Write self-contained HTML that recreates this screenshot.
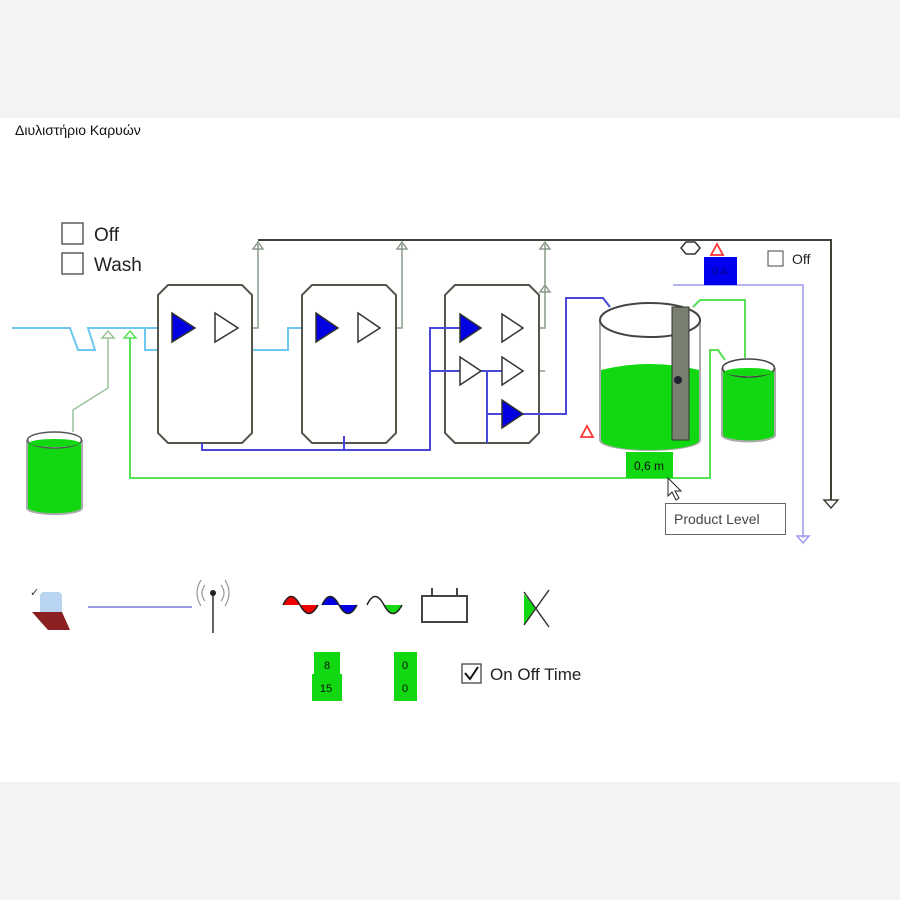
<!DOCTYPE html>
<html><head><style>
body{margin:0;background:#f3f3f3;}
svg{display:block;}
text{font-family:"Liberation Sans",sans-serif;}
</style></head><body>
<svg width="900" height="900" xmlns="http://www.w3.org/2000/svg">
<rect x="0" y="0" width="900" height="900" fill="#f3f3f3"/>
<rect x="0" y="118" width="900" height="664" fill="#fff"/>
<text x="15" y="135" font-size="14" fill="#111">Διυλιστήριο Καρυών</text>
<!-- checkboxes -->
<rect x="62" y="223" width="21" height="21" fill="#fff" stroke="#444" stroke-width="1.3"/>
<text x="94" y="241" font-size="19" fill="#222">Off</text>
<rect x="62" y="253" width="21" height="21" fill="#fff" stroke="#444" stroke-width="1.3"/>
<text x="94" y="271" font-size="19" fill="#222">Wash</text>
<!-- cyan -->
<polyline points="12,328 70,328 78,350 95,350 88,328 145,328 172,328" fill="none" stroke="#6cc8f0" stroke-width="2"/>
<polyline points="145,328 145,350 288,350 288,328 316,328" fill="none" stroke="#6cc8f0" stroke-width="2"/>
<!-- dark top line -->
<polyline points="258,240 831,240 831,500" fill="none" stroke="#404035" stroke-width="2"/>
<polygon points="824,500 838,500 831,508" fill="none" stroke="#404035" stroke-width="1.5"/>
<!-- outputs gray-green -->
<g fill="none" stroke="#8a9a8a" stroke-width="1.5">
<polyline points="238,328 258,328 258,244"/>
<polyline points="380,328 402,328 402,244"/>
<polyline points="523,328 545,328 545,244"/>
<polyline points="523,371 545,371"/>
<polygon points="253,249 263,249 258,242"/>
<polygon points="397,249 407,249 402,242"/>
<polygon points="540,249 550,249 545,242"/>
<polygon points="540,292 550,292 545,285"/>
</g>
<!-- tanks -->
<g fill="#fff" stroke="#55554a" stroke-width="2">
<polygon points="168,285 242,285 252,295 252,433 242,443 168,443 158,433 158,295"/>
<polygon points="312,285 386,285 396,295 396,433 386,443 312,443 302,433 302,295"/>
<polygon points="455,285 529,285 539,295 539,433 529,443 455,443 445,433 445,295"/>
</g>
<!-- blue lines -->
<g fill="none" stroke="#4848d8" stroke-width="2">
<polyline points="202,443 202,450 430,450 430,328 460,328"/>
<line x1="344" y1="436" x2="344" y2="450"/>
<line x1="430" y1="371" x2="460" y2="371"/>
<line x1="481" y1="371" x2="508" y2="371"/>
<polyline points="487,371 487,443"/>
<line x1="487" y1="414" x2="502" y2="414"/>
<polyline points="523,414 566,414 566,298 603,298 610,307"/>
</g>
<!-- triangles -->
<g stroke="#333" stroke-width="1.5">
<polygon points="172,313 195,328 172,342" fill="#0000e0"/>
<polygon points="215,313 238,328 215,342" fill="#fff"/>
<polygon points="316,313 338,328 316,342" fill="#0000e0"/>
<polygon points="358,313 380,328 358,342" fill="#fff"/>
<polygon points="460,314 481,328 460,342" fill="#0000e0"/>
<polygon points="502,314 523,328 502,342" fill="#fff"/>
<polygon points="460,357 481,371 460,385" fill="#fff"/>
<polygon points="502,357 523,371 502,385" fill="#fff"/>
<polygon points="502,400 523,414 502,428" fill="#0000e0"/>
</g>
<!-- green lines -->
<g fill="none" stroke="#55e055" stroke-width="2">
<polyline points="130,338 130,478 710,478 710,350 718,350 725,360"/>
<polyline points="693,307 700,300 745,300 745,358"/>
</g>
<polygon points="124,338 136,338 130,331" fill="none" stroke="#55e055" stroke-width="1.5"/>
<polyline points="73,432 73,410 108,388 108,338" fill="none" stroke="#9ac09a" stroke-width="1.5"/>
<polygon points="102,338 114,338 108,331" fill="none" stroke="#9ac09a" stroke-width="1.5"/>
<!-- light blue -->
<polyline points="673,285 803,285 803,538" fill="none" stroke="#9a9af0" stroke-width="1.5"/>
<polygon points="797,536 809,536 803,543" fill="none" stroke="#9a9af0" stroke-width="1.5"/>
<!-- left small tank -->
<path d="M27,440 L27,508 A27,6 0 0 0 82,508 L82,440" fill="#11d811" stroke="#aaa" stroke-width="2"/>
<ellipse cx="54.5" cy="440" rx="27" ry="8" fill="#fff" stroke="#555" stroke-width="1.5"/>
<ellipse cx="54.5" cy="443" rx="25" ry="4" fill="#11d811"/>
<!-- big tank -->
<path d="M600,320 L600,440 A50,10 0 0 0 700,440 L700,320" fill="#fff" stroke="#aaa" stroke-width="2"/>
<path d="M601,370 Q650,358 699,370 L699,440 A49,10 0 0 1 601,440 Z" fill="#11d811"/>
<ellipse cx="650" cy="320" rx="50" ry="17" fill="none" stroke="#444" stroke-width="2"/>
<rect x="672" y="307" width="17" height="133" fill="#7a8070" stroke="#333"/>
<circle cx="678" cy="380" r="4" fill="#223"/>
<rect x="626" y="452" width="47" height="26" fill="#11d811"/>
<text x="649" y="470" font-size="12" fill="#111" text-anchor="middle">0,6 m</text>
<!-- small right tank -->
<path d="M722,368 L722,435 A25,6 0 0 0 775,435 L775,368" fill="#11d811" stroke="#aaa" stroke-width="2"/>
<ellipse cx="748.5" cy="368" rx="26" ry="9" fill="#fff" stroke="#444" stroke-width="1.5"/>
<ellipse cx="748.5" cy="372" rx="24" ry="4" fill="#11d811"/>
<!-- red triangles -->
<polygon points="581,437 587,426 593,437" fill="none" stroke="#f33" stroke-width="1.8"/>
<polygon points="711,255 717,244 723,255" fill="none" stroke="#f33" stroke-width="1.8"/>
<!-- blue box -->
<rect x="704" y="257" width="33" height="28" fill="#0000ee"/>
<text x="720" y="275" font-size="11" fill="#000080" text-anchor="middle">0 A</text>
<polygon points="681,248 686,242 695,242 700,248 695,254 686,254" fill="#fff" stroke="#333" stroke-width="1.5"/>
<rect x="768" y="251" width="15" height="15" fill="#fff" stroke="#444"/>
<text x="792" y="264" font-size="14" fill="#222">Off</text>
<!-- tooltip -->
<rect x="665.5" y="503.5" width="120" height="31" fill="#fff" stroke="#666"/>
<text x="674" y="524" font-size="14" fill="#444">Product Level</text>
<path d="M668,478 L668,496 L672,492 L676,500 L679,498 L675,491 L681,491 Z" fill="#fff" stroke="#222"/>
<!-- bottom -->
<rect x="40" y="592" width="22" height="32" rx="4" fill="#b8d4f0"/>
<path d="M32,612 L48,630 L70,630 L62,612 Z" fill="#8a2020"/>
<text x="30" y="596" font-size="11" fill="#333">✓</text>
<line x1="88" y1="607" x2="192" y2="607" stroke="#9a9ae0" stroke-width="2"/>
<line x1="213" y1="595" x2="213" y2="633" stroke="#333" stroke-width="1.5"/>
<circle cx="213" cy="593" r="3" fill="#222"/>
<path d="M205,585 Q199,593 205,601 M201,580 Q193,593 201,606 M221,585 Q227,593 221,601 M225,580 Q233,593 225,606" fill="none" stroke="#999" stroke-width="1.2"/>
<path d="M283,605 Q291,588 300,605 Z" fill="#e00"/><path d="M300,605 Q309,622 318,605 Z" fill="#e00"/>
<path d="M283,605 Q291,588 300,605 Q309,622 318,605" fill="none" stroke="#222" stroke-width="1.5"/>
<path d="M322,605 Q330,588 339,605 Z" fill="#0000e0"/><path d="M339,605 Q348,622 357,605 Z" fill="#0000e0"/>
<path d="M322,605 Q330,588 339,605 Q348,622 357,605" fill="none" stroke="#222" stroke-width="1.5"/>
<path d="M384,605 Q393,622 402,605 Z" fill="#11d811"/>
<path d="M367,605 Q375,588 384,605 Q393,622 402,605" fill="none" stroke="#222" stroke-width="1.5"/>
<rect x="422" y="596" width="45" height="26" fill="#fff" stroke="#444" stroke-width="2"/>
<line x1="432" y1="588" x2="432" y2="596" stroke="#444" stroke-width="2"/>
<line x1="457" y1="588" x2="457" y2="596" stroke="#444" stroke-width="2"/>
<polygon points="524,594 536,609 524,624" fill="#11d811"/>
<line x1="524" y1="592" x2="549" y2="627" stroke="#333" stroke-width="1.5"/>
<line x1="549" y1="590" x2="524" y2="625" stroke="#333" stroke-width="1.5"/>
<rect x="314" y="652" width="26" height="24" fill="#11d811"/>
<rect x="312" y="674" width="30" height="27" fill="#11d811"/>
<text x="327" y="669" font-size="11" fill="#111" text-anchor="middle">8</text>
<text x="326" y="692" font-size="11" fill="#111" text-anchor="middle">15</text>
<rect x="394" y="652" width="23" height="49" fill="#11d811"/>
<text x="405" y="669" font-size="11" fill="#111" text-anchor="middle">0</text>
<text x="405" y="692" font-size="11" fill="#111" text-anchor="middle">0</text>
<rect x="462" y="664" width="19" height="19" fill="#fff" stroke="#444" stroke-width="1.3"/>
<path d="M465,673 L470,679 L478,667" fill="none" stroke="#111" stroke-width="2"/>
<text x="490" y="680" font-size="17" fill="#222">On Off Time</text>
</svg>
</body></html>
